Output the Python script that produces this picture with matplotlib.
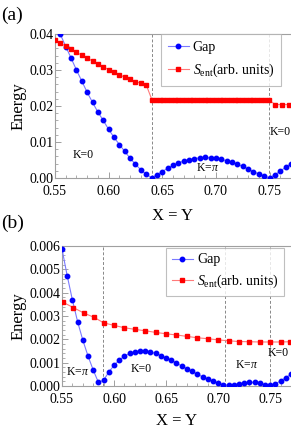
import matplotlib
matplotlib.use('Agg')
import matplotlib.pyplot as plt
from matplotlib.ticker import MultipleLocator

plt.rcParams['font.family'] = ['Liberation Serif', 'DejaVu Serif']
plt.rcParams['mathtext.fontset'] = 'custom'
plt.rcParams['mathtext.rm'] = 'Liberation Serif'
plt.rcParams['mathtext.it'] = 'Liberation Serif:italic'

# ---- panel (a) data ----
gap_a_x = [0.555, 0.560, 0.565, 0.570, 0.575, 0.580, 0.585, 0.590, 0.595, 0.600,
           0.605, 0.610, 0.615, 0.620, 0.625, 0.630, 0.635, 0.640, 0.645, 0.650,
           0.655, 0.660, 0.665, 0.670, 0.675, 0.680, 0.685, 0.690, 0.695, 0.700,
           0.705, 0.710, 0.715, 0.720, 0.725, 0.730, 0.735, 0.740, 0.745, 0.750,
           0.755, 0.760, 0.765, 0.770]
gap_a = [0.0399, 0.0365, 0.0333, 0.0300, 0.0269, 0.0238, 0.0210, 0.0183, 0.0160, 0.0135,
         0.0113, 0.0093, 0.0074, 0.0055, 0.0038, 0.0023, 0.0010, 0.0001, 0.0009, 0.0018,
         0.0027, 0.0035, 0.0042, 0.0047, 0.0051, 0.0054, 0.0056, 0.0057, 0.0056, 0.0055,
         0.0052, 0.0048, 0.0044, 0.0038, 0.0032, 0.0025, 0.0018, 0.0011, 0.0005, 0.0001,
         0.0009, 0.0019, 0.0030, 0.0040]

sent_a_x = [0.550, 0.555, 0.560, 0.565, 0.570, 0.575, 0.580, 0.585, 0.590, 0.595,
            0.600, 0.605, 0.610, 0.615, 0.620, 0.625, 0.630, 0.635,
            0.6405, 0.644, 0.6475, 0.651, 0.6545, 0.658, 0.6615, 0.665, 0.6685, 0.672,
            0.6755, 0.679, 0.6825, 0.686, 0.6895, 0.693, 0.6965, 0.700, 0.7035, 0.707,
            0.7105, 0.714, 0.7175, 0.721, 0.7245, 0.728, 0.7315, 0.735, 0.7385, 0.742,
            0.7455, 0.7495, 0.7555, 0.762, 0.7685]
sent_a = [0.0382, 0.0375, 0.0366, 0.0357, 0.0349, 0.0341, 0.0333, 0.0325, 0.0317, 0.0309,
          0.0301, 0.0294, 0.0287, 0.0280, 0.0274, 0.0268, 0.0263, 0.0259,
          0.0216, 0.0216, 0.0216, 0.0216, 0.0216, 0.0216, 0.0216, 0.0216, 0.0216, 0.0216,
          0.0216, 0.0216, 0.0216, 0.0216, 0.0216, 0.0216, 0.0216, 0.0216, 0.0216, 0.0216,
          0.0216, 0.0216, 0.0216, 0.0216, 0.0216, 0.0216, 0.0216, 0.0216, 0.0216, 0.0216,
          0.0216, 0.0216, 0.0204, 0.0204, 0.0204]

trans_a = [0.6405, 0.7495]
labels_a = [(0.576, 0.0064, 'K=0'), (0.692, 0.0027, r'K=$\pi$'), (0.760, 0.0128, 'K=0')]

# ---- panel (b) data ----
gap_b_x = [0.550, 0.555, 0.560, 0.565, 0.570, 0.575, 0.580, 0.585, 0.590, 0.595,
           0.600, 0.605, 0.610, 0.615, 0.620, 0.625, 0.630, 0.635, 0.640, 0.645,
           0.650, 0.655, 0.660, 0.665, 0.670, 0.675, 0.680, 0.685, 0.690, 0.695,
           0.700, 0.705, 0.710, 0.715, 0.720, 0.725, 0.730, 0.735, 0.740, 0.745,
           0.750, 0.755, 0.760, 0.765, 0.770]
gap_b = [0.00587, 0.00473, 0.00369, 0.00276, 0.00197, 0.00129, 0.00069, 0.00016, 0.00026, 0.00060,
         0.00089, 0.00111, 0.00129, 0.00140, 0.00147, 0.00150, 0.00150, 0.00146, 0.00140, 0.00131,
         0.00121, 0.00111, 0.00099, 0.00086, 0.00074, 0.00063, 0.00051, 0.00040, 0.00031, 0.00021,
         0.00013, 0.00006, 0.00003, 0.00006, 0.00010, 0.00013, 0.00016, 0.00016, 0.00013, 0.00007,
         0.00003, 0.00009, 0.00023, 0.00036, 0.00051]

sent_b_x = [0.551, 0.561, 0.571, 0.581, 0.590, 0.600, 0.610, 0.620, 0.630, 0.640,
            0.650, 0.660, 0.670, 0.680, 0.690, 0.700, 0.710, 0.720, 0.730, 0.740,
            0.750, 0.760, 0.769]
sent_b = [0.00359, 0.00336, 0.00313, 0.00294, 0.00271, 0.00260, 0.00250, 0.00243, 0.00237, 0.00230,
          0.00224, 0.00219, 0.00213, 0.00207, 0.00203, 0.00198, 0.00194, 0.00191, 0.00190, 0.00189,
          0.00189, 0.00189, 0.00190]

trans_b = [0.5893, 0.7065, 0.7495]
labels_b = [(0.5655, 0.00060, r'K=$\pi$'), (0.6265, 0.00073, 'K=0'),
            (0.727, 0.00090, r'K=$\pi$'), (0.7575, 0.00141, 'K=0')]


def style_axis(ax, ymax, ymajor, yminor, yfmt, xpad):
    ax.set_xlim(0.55, 0.77)
    ax.set_ylim(0, ymax)
    ax.xaxis.set_major_locator(MultipleLocator(0.05))
    ax.xaxis.set_minor_locator(MultipleLocator(0.01))
    ax.yaxis.set_major_locator(MultipleLocator(ymajor))
    ax.yaxis.set_minor_locator(MultipleLocator(yminor))
    ax.xaxis.set_major_formatter(plt.FormatStrFormatter('%.2f'))
    ax.yaxis.set_major_formatter(plt.FormatStrFormatter(yfmt))
    for s in ['left', 'bottom', 'top']:
        ax.spines[s].set_color('#a0a0a0')
        ax.spines[s].set_linewidth(0.8)
    ax.spines['right'].set_visible(False)
    ax.tick_params(which='both', direction='in', color='#a0a0a0', labelsize=10,
                   top=False, right=False)
    ax.tick_params(axis='y', pad=1)
    ax.tick_params(axis='x', pad=5)
    ax.tick_params(which='major', length=4, width=0.7)
    ax.tick_params(which='minor', length=2, width=0.6)
    ax.set_xlabel('X = Y', fontsize=12, labelpad=xpad)
    ax.set_ylabel('Energy', fontsize=12, labelpad=2)


def draw_panel(ax, gx, gy, sx, sy, trans, labels):
    for t in trans:
        ax.axvline(t, color='#888888', lw=0.7, ls=(0, (3, 2)), zorder=1)
    ax.plot(gx, gy, '-o', color='#7a7aff', mfc='blue', mec='blue', ms=3.2, lw=0.8,
            label='Gap', zorder=3)
    ax.plot(sx, sy, '-s', color='#ff7a7a', mfc='red', mec='red', ms=3.2, lw=0.8,
            label=r'$S_{\rm ent}$(arb. units)', zorder=3)
    for x, y, s in labels:
        ax.text(x, y, s, fontsize=8.5, ha='center', va='center')


fig = plt.figure(figsize=(2.91, 4.30), dpi=100)

ax_a = fig.add_axes([0.189, 0.586, 0.811, 0.335])
draw_panel(ax_a, gap_a_x, gap_a, sent_a_x, sent_a, trans_a, labels_a)
style_axis(ax_a, 0.04, 0.01, 0.002, '%.2f', 7)
leg = ax_a.legend(loc='upper right', bbox_to_anchor=(0.958, 1.0), fontsize=10,
                  frameon=True, fancybox=False, edgecolor='#b0b0b0', handlelength=1.5,
                  handletextpad=0.3, borderpad=0.5, labelspacing=0.55, borderaxespad=0)
leg.get_frame().set_linewidth(0.8)

ax_b = fig.add_axes([0.213, 0.102, 0.787, 0.326])
draw_panel(ax_b, gap_b_x, gap_b, sent_b_x, sent_b, trans_b, labels_b)
style_axis(ax_b, 0.006, 0.001, 0.0002, '%.3f', 5)
leg = ax_b.legend(loc='upper right', bbox_to_anchor=(0.969, 0.986), fontsize=10,
                  frameon=True, fancybox=False, edgecolor='#b0b0b0', handlelength=1.5,
                  handletextpad=0.3, borderpad=0.4, labelspacing=0.45, borderaxespad=0)
leg.get_frame().set_linewidth(0.8)

fig.text(0.005, 0.965, '(a)', fontsize=14, ha='left', va='center')
fig.text(0.005, 0.481, '(b)', fontsize=14, ha='left', va='center')

fig.savefig('out.png', dpi=100)
